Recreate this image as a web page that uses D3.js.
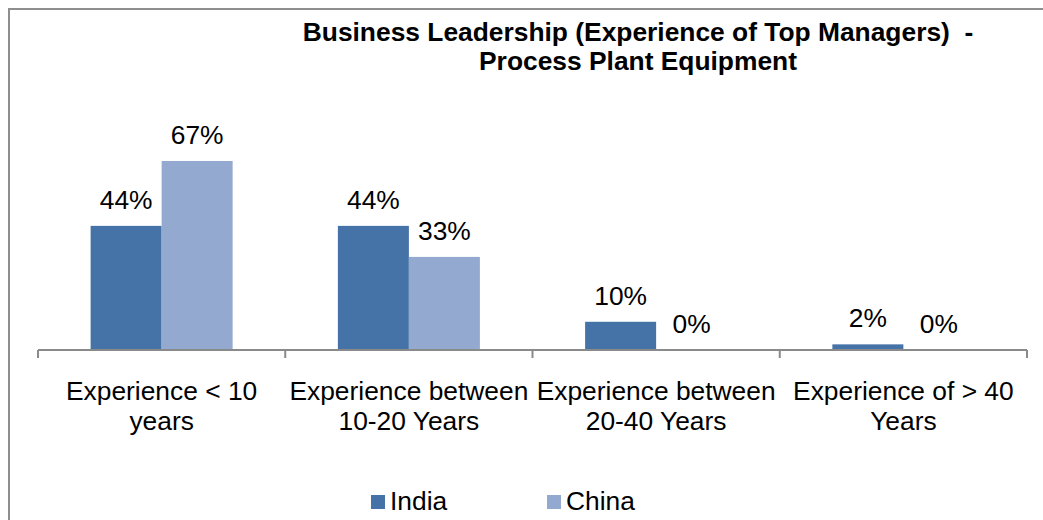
<!DOCTYPE html>
<html>
<head>
<meta charset="utf-8">
<script src="https://cdn.jsdelivr.net/npm/d3@7"></script>
<style>
  html, body { margin: 0; padding: 0; background: #fff; }
  svg text { font-family: Arial, "Liberation Sans", sans-serif; fill: #000; white-space: pre; }
</style>
</head>
<body>
<div id="chart"></div>
<script>
// Chart data
const categories = [
  "Experience < 10\nyears",
  "Experience between\n10-20 Years",
  "Experience between\n20-40 Years",
  "Experience of > 40\nYears"
];
const seriesNames = ["India", "China"];
const indiaValues = [0.44, 0.44, 0.10, 0.02];
const chinaValues = [0.67, 0.33, 0, 0];
const titleLines = [
  "Business Leadership (Experience of Top Managers)  -",
  "Process Plant Equipment"
];

const colors = { India: "#4572A7", China: "#93A9CF" };

const W = 1043, H = 520;
const baseY = 350;
const sx = 1.055; // text in the original is a bit wider than Arial

const place = (px, py) => `translate(${px},${py}) scale(${sx},1)`;

const svg = d3.select("#chart")
  .append("svg")
  .attr("width", W)
  .attr("height", H);

// Chart border (cropped at right and bottom)
svg.append("rect")
  .attr("x", 9).attr("y", 9)
  .attr("width", W + 20).attr("height", H + 20)
  .attr("fill", "#fff")
  .attr("stroke", "#8e8e8e")
  .attr("stroke-width", 2);

// Title
svg.append("g")
  .selectAll("text")
  .data(titleLines)
  .join("text")
  .attr("transform", (d, i) => place(638, 41 + i * 29))
  .attr("text-anchor", "middle")
  .style("font-size", "25px")
  .style("font-weight", "bold")
  .text(d => d);

// Scales
const x = d3.scaleBand()
  .domain(categories)
  .range([38, 1027])
  .padding(0);

const xSub = d3.scaleBand()
  .domain(seriesNames)
  .range([0, x.bandwidth()])
  .paddingInner(0)
  .paddingOuter(0.741);

const y = d3.scaleLinear()
  .domain([0, 0.8])
  .range([baseY, baseY - 0.8 * 282.1]);

const rows = categories.map((c, i) => ({
  cat: c,
  vals: [
    { s: "India", v: indiaValues[i] },
    { s: "China", v: chinaValues[i] }
  ]
}));

const fmt = d3.format(".0%");

// Bars
const groups = svg.append("g")
  .selectAll("g")
  .data(rows)
  .join("g")
  .attr("transform", d => `translate(${x(d.cat)},0)`);

groups.selectAll("rect")
  .data(d => d.vals)
  .join("rect")
  .attr("x", d => xSub(d.s))
  .attr("y", d => y(d.v))
  .attr("width", xSub.bandwidth())
  .attr("height", d => baseY - y(d.v))
  .attr("fill", d => colors[d.s]);

// Data labels
groups.selectAll("text")
  .data(d => d.vals)
  .join("text")
  .attr("transform", d => place(xSub(d.s) + xSub.bandwidth() / 2, y(d.v) - 17))
  .attr("text-anchor", "middle")
  .style("font-size", "25px")
  .text(d => fmt(d.v));

// X axis
const tickPos = categories.map(c => x(c)).concat([x.range()[1]]);
svg.append("line")
  .attr("x1", x.range()[0]).attr("x2", x.range()[1])
  .attr("y1", baseY).attr("y2", baseY)
  .attr("stroke", "#8a8a8a")
  .attr("stroke-width", 2);
svg.append("g")
  .selectAll("line")
  .data(tickPos)
  .join("line")
  .attr("x1", d => d).attr("x2", d => d)
  .attr("y1", baseY).attr("y2", baseY + 8)
  .attr("stroke", "#8a8a8a")
  .attr("stroke-width", 2);

// Category labels
const catLabels = svg.append("g")
  .selectAll("text")
  .data(categories)
  .join("text")
  .attr("transform", d => place(x(d) + x.bandwidth() / 2, 400))
  .attr("text-anchor", "middle")
  .style("font-size", "25px");
catLabels.selectAll("tspan")
  .data(d => d.split("\n"))
  .join("tspan")
  .attr("x", 0)
  .attr("dy", (d, i) => (i === 0 ? 0 : 30))
  .text(d => d);

// Legend
const legendX = [371, 547];
const legend = svg.append("g")
  .selectAll("g")
  .data(seriesNames)
  .join("g")
  .attr("transform", (d, i) => `translate(${legendX[i]},495)`);
legend.append("rect")
  .attr("width", 14).attr("height", 14)
  .attr("fill", d => colors[d]);
legend.append("text")
  .attr("transform", place(19, 15))
  .style("font-size", "25px")
  .text(d => d);
</script>
</body>
</html>
